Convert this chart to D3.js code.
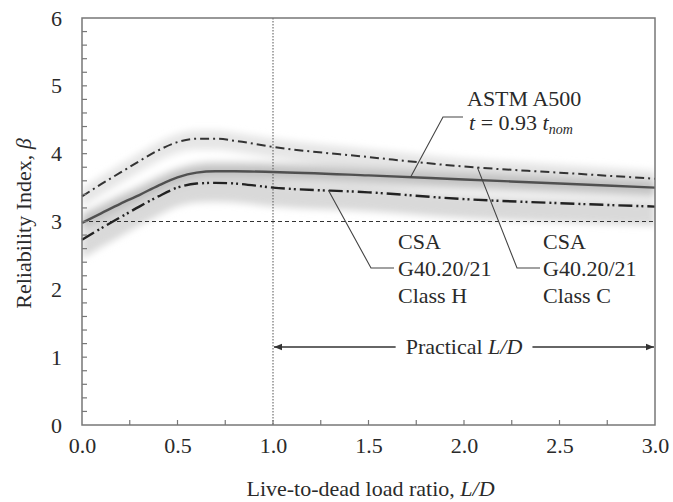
<!DOCTYPE html>
<html>
<head>
<meta charset="utf-8">
<script src="https://cdn.jsdelivr.net/npm/d3@7"></script>
<style>
  html, body { margin: 0; padding: 0; background: #fff; }
  svg { display: block; }
  text { font-family: "Liberation Serif", "Times New Roman", serif; fill: #2a2a2a; }
</style>
</head>
<body>
<svg id="chart" width="673" height="502"></svg>
<script>
// Live-to-dead load ratio samples
const loadRatio = [0.0, 0.1, 0.2, 0.3, 0.4, 0.5, 0.6, 0.7, 0.8, 1.0, 1.5, 2.0, 2.5, 3.0];
// Reliability index for each steel specification
const astmA500 = [2.98, 3.12, 3.26, 3.39, 3.53, 3.65, 3.72, 3.74, 3.74, 3.73, 3.68, 3.62, 3.56, 3.50];
const csaClassC = [3.37, 3.55, 3.72, 3.89, 4.05, 4.17, 4.22, 4.22, 4.19, 4.10, 3.95, 3.81, 3.72, 3.63];
const csaClassH = [2.73, 2.90, 3.06, 3.22, 3.37, 3.50, 3.56, 3.57, 3.56, 3.50, 3.43, 3.33, 3.27, 3.22];
// Target reliability and practical range
const targetBeta = 3.0;
const practicalRange = [1.0, 3.0];
const practicalLevel = 1.15;
// Tick labels
const xTicks = [0.0, 0.5, 1.0, 1.5, 2.0, 2.5, 3.0];
const yTicks = [0, 1, 2, 3, 4, 5, 6];

const FS = 22;
const svg = d3.select("#chart");
const L = 82, R = 655, T = 18, B = 425;

const x = d3.scaleLinear().domain([0, 3]).range([L, R]);
const y = d3.scaleLinear().domain([0, 6]).range([B, T]);

const defs = svg.append("defs");
defs.append("filter").attr("id", "soft").attr("x", "-10%").attr("y", "-30%").attr("width", "120%").attr("height", "160%")
  .append("feGaussianBlur").attr("stdDeviation", 3.5);
defs.append("marker").attr("id", "arrow").attr("viewBox", "0 0 10 10")
  .attr("refX", 10).attr("refY", 5).attr("markerWidth", 10).attr("markerHeight", 8)
  .attr("markerUnits", "userSpaceOnUse").attr("orient", "auto-start-reverse")
  .append("path").attr("d", "M0,1 L10,5 L0,9 Z").attr("fill", "#333");
defs.append("clipPath").attr("id", "plotclip").append("rect")
  .attr("x", L).attr("y", T).attr("width", R - L).attr("height", B - T);

const toPoints = vals => loadRatio.map((r, i) => [r, vals[i]]);

// Shaded scatter bands around each curve
const band = (lo, hi) => d3.area().curve(d3.curveMonotoneX)
  .x(d => x(d[0])).y0(d => y(d[1] - lo)).y1(d => y(d[1] + hi));
const bands = svg.append("g").attr("clip-path", "url(#plotclip)")
  .append("g").attr("filter", "url(#soft)");
bands.append("path").datum(toPoints(csaClassC)).attr("d", band(0.16, 0.12)).attr("fill", "#e6e6e6");
bands.append("path").datum(toPoints(csaClassH)).attr("d", band(0.28, 0.06)).attr("fill", "#d9d9d9");
bands.append("path").datum(toPoints(astmA500)).attr("d", band(0.16, 0.14)).attr("fill", "#d4d4d4");
bands.append("path").datum(toPoints(astmA500)).attr("d", band(0.06, 0.06)).attr("fill", "#bdbdbd");

// Target reliability (dashed) and L/D = 1.0 divider (dotted)
svg.append("line").attr("x1", x(0)).attr("x2", x(3)).attr("y1", y(targetBeta)).attr("y2", y(targetBeta))
  .attr("stroke", "#333").attr("stroke-width", 1.2).attr("stroke-dasharray", "4,3");
svg.append("line").attr("x1", x(1)).attr("x2", x(1)).attr("y1", y(6)).attr("y2", y(0))
  .attr("stroke", "#555").attr("stroke-width", 1).attr("stroke-dasharray", "1.5,1.5");

// Curves
const line = d3.line().curve(d3.curveMonotoneX).x(d => x(d[0])).y(d => y(d[1]));
svg.append("path").datum(toPoints(astmA500)).attr("d", line)
  .attr("fill", "none").attr("stroke", "#505050").attr("stroke-width", 2.4);
svg.append("path").datum(toPoints(csaClassC)).attr("d", line)
  .attr("fill", "none").attr("stroke", "#333").attr("stroke-width", 2)
  .attr("stroke-dasharray", "9,4,2,4");
svg.append("path").datum(toPoints(csaClassH)).attr("d", line)
  .attr("fill", "none").attr("stroke", "#222").attr("stroke-width", 2.4)
  .attr("stroke-dasharray", "14,4,2,3,2,4");

// Frame and axes
const axisColor = "#777";
svg.append("rect").attr("x", L).attr("y", T).attr("width", R - L).attr("height", B - T)
  .attr("fill", "none").attr("stroke", axisColor).attr("stroke-width", 1.5);

const xAxis = d3.axisBottom(x).tickValues(xTicks).tickFormat(d3.format(".1f")).tickSize(0).tickPadding(12);
const gx = svg.append("g").attr("transform", `translate(0,${B})`).call(xAxis);
gx.select(".domain").remove();
gx.selectAll("text").attr("font-size", FS).attr("font-family", "Liberation Serif").attr("fill", "#2a2a2a");

const yAxis = d3.axisLeft(y).tickValues(yTicks).tickFormat(d3.format("d")).tickSize(0).tickPadding(20);
const gy = svg.append("g").attr("transform", `translate(${L},0)`).call(yAxis);
gy.select(".domain").remove();
gy.selectAll("text").attr("font-size", FS).attr("font-family", "Liberation Serif").attr("fill", "#2a2a2a");

// Inward ticks
const xMinor = d3.range(0.25, 3, 0.25);
svg.append("g").selectAll("line").data(xMinor).join("line")
  .attr("x1", d => x(d)).attr("x2", d => x(d)).attr("y1", B).attr("y2", B - 5)
  .attr("stroke", axisColor).attr("stroke-width", 1.2);
const yMinor = d3.range(0.2, 6, 0.2);
svg.append("g").selectAll("line").data(yMinor).join("line")
  .attr("x1", L).attr("x2", L + 5).attr("y1", d => y(d)).attr("y2", d => y(d))
  .attr("stroke", axisColor).attr("stroke-width", 1.2);

// Axis titles
const xt = svg.append("text").attr("x", (L + R) / 2 + 2).attr("y", 496).attr("text-anchor", "middle").attr("font-size", FS);
xt.append("tspan").text("Live-to-dead load ratio, ");
xt.append("tspan").attr("font-style", "italic").text("L/D");

const yt = svg.append("text").attr("transform", `translate(31,${(T + B) / 2 + 2}) rotate(-90)`)
  .attr("text-anchor", "middle").attr("font-size", FS);
yt.append("tspan").text("Reliability Index, ");
yt.append("tspan").attr("font-style", "italic").text("β");

// Practical L/D range arrow
const py = y(practicalLevel);
const pt = svg.append("text").attr("x", x(2.0)).attr("y", py + 7).attr("text-anchor", "middle").attr("font-size", FS);
pt.append("tspan").text("Practical ");
pt.append("tspan").attr("font-style", "italic").text("L/D");
const pb = pt.node().getBBox();
svg.append("line").attr("x1", pb.x - 10).attr("x2", x(practicalRange[0]) + 1).attr("y1", py).attr("y2", py)
  .attr("stroke", "#333").attr("stroke-width", 1.3).attr("marker-end", "url(#arrow)");
svg.append("line").attr("x1", pb.x + pb.width + 10).attr("x2", x(practicalRange[1]) - 1).attr("y1", py).attr("y2", py)
  .attr("stroke", "#333").attr("stroke-width", 1.3).attr("marker-end", "url(#arrow)");

// Curve labels with leader lines
const lookup = vals => d3.scaleLinear().domain(loadRatio).range(vals);
const leader = (pts) => svg.append("path").attr("d", d3.line()(pts))
  .attr("fill", "none").attr("stroke", "#444").attr("stroke-width", 1.1);

// ASTM A500
{
  const ax = 1.72, ay = lookup(astmA500)(ax);
  leader([[x(ax), y(ay)], [443, 117], [463, 117]]);
  svg.append("text").attr("x", 467).attr("y", 106).attr("font-size", FS).text("ASTM A500");
  const t2 = svg.append("text").attr("x", 469).attr("y", 130).attr("font-size", FS);
  t2.append("tspan").attr("font-style", "italic").text("t");
  t2.append("tspan").text(" = 0.93 ");
  t2.append("tspan").attr("font-style", "italic").text("t");
  t2.append("tspan").attr("font-style", "italic").attr("font-size", 14).attr("dy", 4).text("nom");
}
// CSA Class H
{
  const hx = 1.29, hy = lookup(csaClassH)(hx);
  leader([[x(hx), y(hy)], [371, 268], [394, 268]]);
  ["CSA", "G40.20/21", "Class H"].forEach((s, i) =>
    svg.append("text").attr("x", 398).attr("y", 249 + i * 27).attr("font-size", FS).text(s));
}
// CSA Class C
{
  const cx = 2.07, cy = lookup(csaClassC)(cx);
  leader([[x(cx), y(cy)], [517, 268], [540, 268]]);
  ["CSA", "G40.20/21", "Class C"].forEach((s, i) =>
    svg.append("text").attr("x", 543).attr("y", 249 + i * 27).attr("font-size", FS).text(s));
}
</script>
</body>
</html>
